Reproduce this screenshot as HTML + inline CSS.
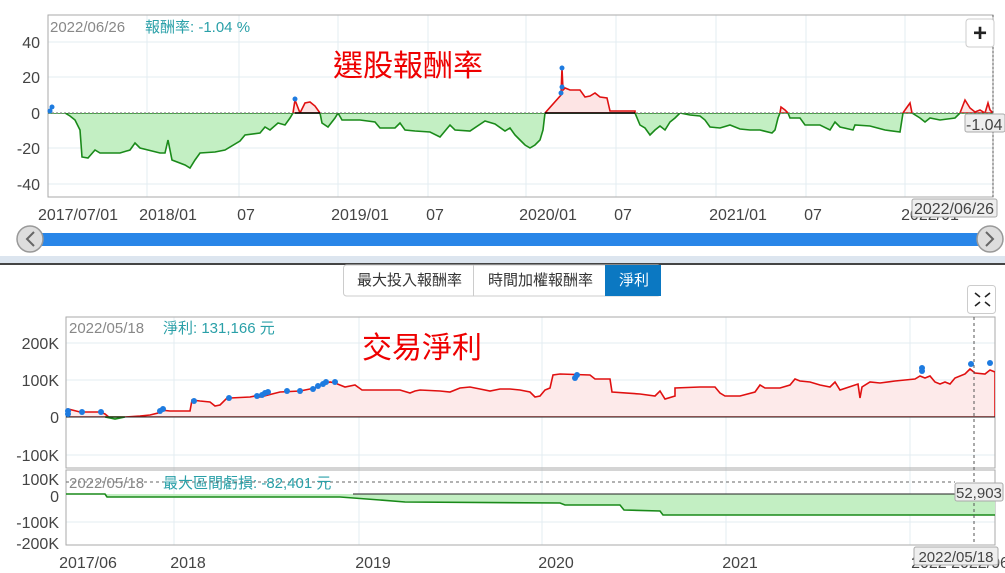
<!DOCTYPE html>
<html><head><meta charset="utf-8"><style>
html,body{margin:0;padding:0;background:#fff;width:1005px;height:573px;overflow:hidden}
svg{display:block;font-family:"Liberation Sans","Noto Sans CJK TC",sans-serif}
</style></head><body>
<svg width="1005" height="573" viewBox="0 0 1005 573">
<defs>
<clipPath id="tA"><rect x="48" y="0" width="945" height="113"/></clipPath>
<clipPath id="tB"><rect x="48" y="113" width="945" height="90"/></clipPath>
<clipPath id="bA"><rect x="66" y="0" width="929" height="417"/></clipPath>
<clipPath id="bB"><rect x="66" y="417" width="929" height="60"/></clipPath>
</defs>
<rect width="1005" height="573" fill="#fff"/>
<!-- TOP CHART -->
<g stroke="#e3ecf2" stroke-width="1">
<line x1="48" y1="42" x2="993" y2="42"/><line x1="48" y1="77" x2="993" y2="77"/><line x1="48" y1="148" x2="993" y2="148"/><line x1="48" y1="184" x2="993" y2="184"/>
<line x1="147" y1="15" x2="147" y2="197"/><line x1="239" y1="15" x2="239" y2="197"/><line x1="338" y1="15" x2="338" y2="197"/><line x1="428" y1="15" x2="428" y2="197"/><line x1="526" y1="15" x2="526" y2="197"/><line x1="616" y1="15" x2="616" y2="197"/><line x1="716" y1="15" x2="716" y2="197"/><line x1="806" y1="15" x2="806" y2="197"/><line x1="905" y1="15" x2="905" y2="197"/>
</g>
<rect x="48" y="15" width="945" height="182" fill="none" stroke="#aaa"/>
<g id="tp">
<path id="tpath" d="M48,113 L55,113 65,113 70,116 75,120 80,130 82,157 88,158 95,150 100,153 120,153 130,150 135,143 140,148 160,153 165,153 168,140 172,160 185,165 190,168 195,160 200,153 215,152 225,150 240,141 245,135 260,133 265,127 270,130 278,123 285,125 290,118 293,113 295,100 300,113 305,103 310,102 315,106 320,113 322,123 328,127 335,118 338,113 342,120 360,120 375,122 380,128 395,128 400,123 405,130 415,131 430,132 440,137 445,131 450,125 455,130 470,131 485,121 495,124 505,131 510,128 515,135 520,140 525,145 530,148 535,145 540,140 543,130 545,113 561,95 562,68 563,90 565,88 570,90 580,90 585,97 590,96 595,93 600,97 607,98 610,111 635,111 635,113 640,125 645,128 650,135 655,130 660,126 665,130 670,122 675,118 680,113 690,115 700,116 705,120 710,127 720,128 730,125 740,129 750,130 760,130 772,133 775,130 778,118 780,113 781,107 785,110 788,113 790,118 800,118 805,125 815,125 820,125 830,130 835,122 840,127 853,130 855,125 870,126 885,130 900,132 903,113 905,110 910,103 912,113 920,118 925,122 930,118 940,120 955,118 960,113 965,100 970,108 975,112 980,110 985,113 988,103 990,110 993,113"/>
</g>
<g clip-path="url(#tB)"><path d="M48,113 L55,113 65,113 70,116 75,120 80,130 82,157 88,158 95,150 100,153 120,153 130,150 135,143 140,148 160,153 165,153 168,140 172,160 185,165 190,168 195,160 200,153 215,152 225,150 240,141 245,135 260,133 265,127 270,130 278,123 285,125 290,118 293,113 320,113 322,123 328,127 335,118 338,113 342,120 360,120 375,122 380,128 395,128 400,123 405,130 415,131 430,132 440,137 445,131 450,125 455,130 470,131 485,121 495,124 505,131 510,128 515,135 520,140 525,145 530,148 535,145 540,140 543,130 545,113 635,113 640,125 645,128 650,135 655,130 660,126 665,130 670,122 675,118 680,113 690,115 700,116 705,120 710,127 720,128 730,125 740,129 750,130 760,130 772,133 775,130 778,118 780,113 788,113 790,118 800,118 805,125 815,125 820,125 830,130 835,122 840,127 853,130 855,125 870,126 885,130 900,132 903,113 912,113 920,118 925,122 930,118 940,120 955,118 960,113 993,113 Z" fill="#c3efc3" stroke="#1a8a1a" stroke-width="1.6"/></g>
<g clip-path="url(#tA)"><path d="M293,113 295,100 300,113 305,103 310,102 315,106 320,113 Z M545,113 561,95 562,68 563,90 565,88 570,90 580,90 585,97 590,96 595,93 600,97 607,98 610,111 635,111 635,113Z M780,113 781,107 785,110 788,113Z M903,113 905,110 910,103 912,113Z M960,113 965,100 970,108 975,112 980,110 985,113 988,103 990,110 993,113Z" fill="#fde4e4" stroke="#e01010" stroke-width="1.6"/></g>
<line x1="48" y1="113" x2="993" y2="113" stroke="#666" stroke-dasharray="2,2"/>
<line x1="295" y1="113" x2="320" y2="113" stroke="#000" stroke-width="1.5"/><line x1="545" y1="113" x2="635" y2="113" stroke="#000" stroke-width="1.5"/>
<g fill="#1e7be0"><circle cx="50" cy="111" r="2.5"/><circle cx="52" cy="107" r="2.5"/><circle cx="295" cy="99" r="2.5"/><circle cx="561" cy="93" r="2.5"/><circle cx="562" cy="87" r="2.5"/><circle cx="562" cy="68" r="2.5"/></g>
<line x1="993" y1="15" x2="993" y2="197" stroke="#555" stroke-dasharray="2,2"/>
<g font-size="16" fill="#444" text-anchor="end"><text x="40" y="48">40</text><text x="40" y="83">20</text><text x="40" y="119">0</text><text x="40" y="154">-20</text><text x="40" y="190">-40</text></g>
<g font-size="16" fill="#444" text-anchor="middle"><text x="78" y="220">2017/07/01</text><text x="168" y="220">2018/01</text><text x="246" y="220">07</text><text x="360" y="220">2019/01</text><text x="435" y="220">07</text><text x="548" y="220">2020/01</text><text x="623" y="220">07</text><text x="738" y="220">2021/01</text><text x="813" y="220">07</text><text x="930" y="220">2022/01</text></g>
<rect x="912" y="199" width="85" height="18" fill="#eee" stroke="#aaa" rx="2"/><text x="954" y="214" font-size="16" fill="#444" text-anchor="middle">2022/06/26</text>
<rect x="965" y="114" width="40" height="18" fill="#eee" stroke="#aaa" rx="2"/><text x="966" y="130" font-size="16" fill="#444">-1.04</text>
<text x="50" y="32" font-size="15" fill="#888">2022/06/26</text>
<text x="145" y="32" font-size="15" fill="#2aa0a8">報酬率: -1.04 %</text>
<text x="333" y="76" font-size="30" fill="#e00">選股報酬率</text>
<rect x="966" y="19" width="28" height="28" fill="#fff" stroke="#ccc" rx="3"/><text x="980" y="41" font-size="24" font-weight="bold" text-anchor="middle" fill="#222">+</text>
<rect x="40" y="233" width="940" height="13" fill="#2986e8"/>
<circle cx="30" cy="239" r="13" fill="#ddd" stroke="#999" stroke-width="1.5"/><path d="M34,232 L27,239 34,246" fill="none" stroke="#666" stroke-width="2"/>
<circle cx="990" cy="239" r="13" fill="#ddd" stroke="#999" stroke-width="1.5"/><path d="M986,232 L993,239 986,246" fill="none" stroke="#666" stroke-width="2"/>
<rect x="0" y="256" width="1005" height="8" fill="#dce5ef"/><rect x="0" y="263" width="1005" height="2" fill="#444"/>
<!-- BUTTONS -->
<rect x="343.5" y="265" width="317" height="31" fill="#fff" stroke="#ccc" rx="3"/>
<line x1="473.5" y1="265" x2="473.5" y2="296" stroke="#ccc"/>
<rect x="605" y="265" width="56" height="31" fill="#0b78c2"/>
<g font-size="15"><text x="357" y="285" fill="#333">最大投入報酬率</text><text x="488" y="285" fill="#333">時間加權報酬率</text><text x="619" y="285" fill="#fff">淨利</text></g>
<rect x="967.5" y="285.5" width="28" height="28" fill="#fff" stroke="#ccc" rx="3"/>
<g stroke="#222" stroke-width="1.6"><path d="M975,293 l5,4 M990,293 l-5,4 M975,306 l5,-4 M990,306 l-5,-4"/></g>
<!-- NET PROFIT -->
<g stroke="#e3ecf2"><line x1="66" y1="343" x2="995" y2="343"/><line x1="66" y1="380" x2="995" y2="380"/><line x1="66" y1="455" x2="995" y2="455"/>
<line x1="174" y1="317" x2="174" y2="545"/><line x1="359" y1="317" x2="359" y2="545"/><line x1="542" y1="317" x2="542" y2="545"/><line x1="726" y1="317" x2="726" y2="545"/><line x1="910" y1="317" x2="910" y2="545"/>
<line x1="66" y1="522" x2="995" y2="522"/></g>
<rect x="66" y="317" width="929" height="151" fill="none" stroke="#aaa"/>
<rect x="66" y="470" width="929" height="75" fill="none" stroke="#aaa"/>
<path d="M66,414 L68,409 80,412 100,412 105,414 110,418 115,419 125,417 140,416 150,415 158,413 160,410 170,411 190,411 192,400 200,401 210,402 215,406 220,405 227,398 230,398 250,397 255,396 260,397 280,392 300,391 315,388 320,385 330,382 335,383 345,387 355,385 362,390 400,390 410,393 415,391 420,390 440,391 450,392 460,388 470,387 480,389 490,391 500,389 510,389 520,390 530,392 535,397 540,396 545,390 550,388 553,375 560,374 590,375 595,379 610,379 612,392 640,394 655,396 660,391 665,399 675,396 675,388 700,387 715,387 720,393 725,396 740,396 755,392 760,385 765,388 780,388 790,385 795,379 800,381 810,382 820,385 830,387 835,382 840,390 858,384 860,398 862,387 870,382 880,383 895,381 915,379 920,376 925,378 930,376 935,382 940,384 945,382 950,384 955,378 965,374 970,369 975,373 985,374 990,370 995,372 L995,417 L66,417Z" fill="#fdeaea" stroke="#e01010" stroke-width="1.6" clip-path="url(#bA)"/>
<path d="M105,417 110,418 115,419 125,417Z" fill="#c3efc3" stroke="#1a8a1a" stroke-width="1.6"/>
<line x1="66" y1="417" x2="995" y2="417" stroke="#222"/>
<g fill="#1e7be0"><circle cx="68" cy="411" r="3"/><circle cx="68" cy="414" r="3"/><circle cx="82" cy="412" r="3"/><circle cx="101" cy="412" r="3"/><circle cx="160" cy="411" r="3"/><circle cx="163" cy="409" r="3"/><circle cx="194" cy="401" r="3"/><circle cx="229" cy="398" r="3"/><circle cx="257" cy="396" r="3"/><circle cx="262" cy="395" r="3"/><circle cx="265" cy="393" r="3"/><circle cx="268" cy="392" r="3"/><circle cx="287" cy="391" r="3"/><circle cx="300" cy="391" r="3"/><circle cx="313" cy="389" r="3"/><circle cx="318" cy="386" r="3"/><circle cx="323" cy="384" r="3"/><circle cx="326" cy="382" r="3"/><circle cx="335" cy="382" r="3"/><circle cx="575" cy="378" r="3"/><circle cx="577" cy="375" r="3"/><circle cx="922" cy="371" r="3"/><circle cx="922" cy="368" r="3"/><circle cx="971" cy="364" r="3"/><circle cx="990" cy="363" r="3"/></g>
<!-- drawdown -->
<path d="M66,494 L105,494 107,497 340,497 380,500 405,502 560,503 565,505 620,505 624,510 660,511 663,515 995,515 L995,494Z" fill="#c3efc3"/>
<path d="M66,494 L105,494 107,497 340,497 380,500 405,502 560,503 565,505 620,505 624,510 660,511 663,515 995,515" fill="none" stroke="#1a8a1a" stroke-width="1.6"/>
<line x1="353" y1="494" x2="995" y2="494" stroke="#222"/>
<line x1="66" y1="482" x2="955" y2="482" stroke="#666" stroke-dasharray="3,3"/>
<line x1="974" y1="317" x2="974" y2="545" stroke="#555" stroke-dasharray="3,3"/>
<rect x="955" y="483" width="48" height="18" fill="#eee" stroke="#aaa" rx="2"/><text x="956" y="498" font-size="15" fill="#444">52,903</text>
<g font-size="16" fill="#444" text-anchor="end"><text x="59" y="349">200K</text><text x="59" y="386">100K</text><text x="59" y="423">0</text><text x="59" y="461">-100K</text><text x="59" y="485">100K</text><text x="59" y="502">0</text><text x="59" y="528">-100K</text><text x="59" y="549">-200K</text></g>
<g font-size="16" fill="#444" text-anchor="middle"><text x="88" y="568">2017/06</text><text x="188" y="568">2018</text><text x="373" y="568">2019</text><text x="556" y="568">2020</text><text x="740" y="568">2021</text><text x="960" y="568">2022 2022/06</text></g>
<rect x="914" y="547" width="84" height="18" fill="#eee" stroke="#aaa" rx="2"/><text x="956" y="562" font-size="15" fill="#444" text-anchor="middle">2022/05/18</text>
<text x="69" y="333" font-size="15" fill="#888">2022/05/18</text><text x="163" y="333" font-size="15" fill="#2aa0a8">淨利: 131,166 元</text>
<text x="362" y="358" font-size="30" fill="#e00">交易淨利</text>
<text x="69" y="488" font-size="15" fill="#888">2022/05/18</text><text x="163" y="488" font-size="15" fill="#2aa0a8">最大區間虧損: -82,401 元</text>
</svg>
</body></html>
